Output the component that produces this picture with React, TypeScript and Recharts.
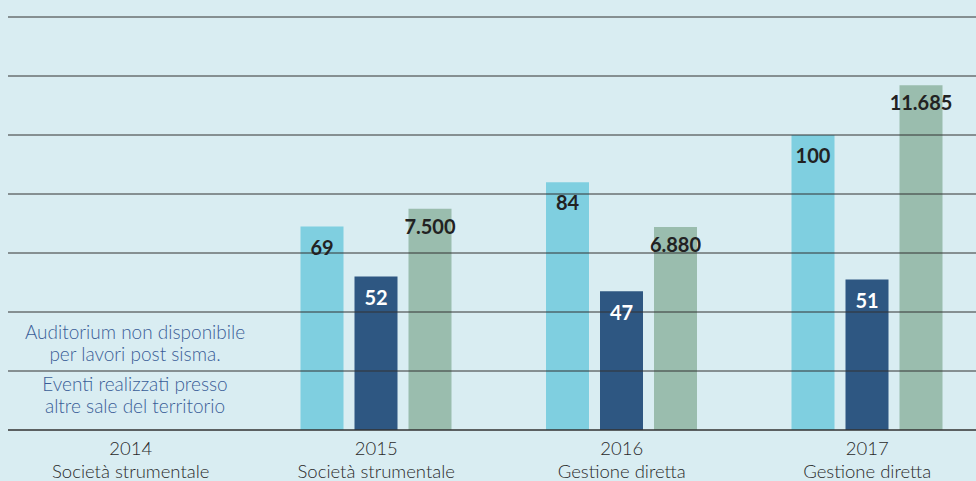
import { BarChart, Bar, XAxis, YAxis, ReferenceLine, LabelList } from "recharts"

const years = ["2014", "2015", "2016", "2017"]
const subtitles = ["Società strumentale", "Società strumentale", "Gestione diretta", "Gestione diretta"]
const seriesA = [null, 69, 84, 100]
const seriesB = [null, 52, 47, 51]
const seriesC = [null, 7500, 6880, 11685]
const leftTicks = [0, 20, 40, 60, 80, 100, 120, 140]
const noteLines = ["Auditorium non disponibile", "per lavori post sisma.", "Eventi realizzati presso", "altre sale del territorio"]

const BG = "#d9edf2"
const COLORS = ["#7fcfe0", "#2e5782", "#9abdae"]

const data = years.map((y, i) => ({
    year: y,
    a: seriesA[i],
    b: seriesB[i],
    c: seriesC[i],
}))

const fmt = (v: any) => (v == null ? "" : String(v).replace(/\B(?=(\d{3})+(?!\d))/g, "."))

function YearTick(props: any) {
    const { x, y, payload, index } = props
    return (
        <g transform={`translate(${x},${y})`}>
            <text textAnchor="middle" fill="#2a2a2a" fontFamily="Lato" fontSize={18.5} fontWeight={300}>
                <tspan x={0} y={17}>{payload.value}</tspan>
                <tspan x={0} y={40}>{subtitles[index]}</tspan>
            </text>
        </g>
    )
}

export default function App() {
    const labelStyle = { fontFamily: "Lato", fontSize: 20, fontWeight: 700 }
    return (
        <div style={{ position: "absolute", left: 0, top: 0, width: 976, height: 481, background: BG, overflow: "hidden" }}>
            <BarChart
                width={1000}
                height={481}
                data={data}
                margin={{ top: 17, right: 10, left: 8, bottom: 0 }}
                barSize={43}
                barGap={11}
            >
                {leftTicks.map(t => (
                    <ReferenceLine key={t} y={t} yAxisId="left" stroke="#333" strokeWidth={1} />
                ))}
                <XAxis
                    dataKey="year"
                    height={51}
                    tickLine={false}
                    axisLine={{ stroke: "#333" }}
                    tick={<YearTick />}
                    interval={0}
                />
                <YAxis yAxisId="left" domain={[0, 140]} ticks={leftTicks} width={0} tick={false} axisLine={false} tickLine={false} />
                <YAxis yAxisId="right" orientation="right" domain={[0, 14000]} width={0} tick={false} axisLine={false} tickLine={false} />
                <Bar dataKey="a" yAxisId="left" fill={COLORS[0]} isAnimationActive={false}>
                    <LabelList dataKey="a" position="insideTop" offset={14} fill="#222" style={labelStyle} formatter={fmt} />
                </Bar>
                <Bar dataKey="b" yAxisId="left" fill={COLORS[1]} isAnimationActive={false}>
                    <LabelList dataKey="b" position="insideTop" offset={14} fill="#fff" style={labelStyle} formatter={fmt} />
                </Bar>
                <Bar dataKey="c" yAxisId="right" fill={COLORS[2]} isAnimationActive={false}>
                    <LabelList dataKey="c" position="insideTop" offset={11} fill="#222" style={labelStyle} formatter={fmt} />
                </Bar>
            </BarChart>
            <div style={{ position: "absolute", left: 5, top: 321, width: 260, textAlign: "center", color: "#395d97", fontFamily: "Lato", fontWeight: 300, fontSize: 19, lineHeight: "21.5px" }}>
                <div>{noteLines[0]}</div>
                <div>{noteLines[1]}</div>
                <div style={{ marginTop: 9 }}>{noteLines[2]}</div>
                <div>{noteLines[3]}</div>
            </div>
        </div>
    )
}
